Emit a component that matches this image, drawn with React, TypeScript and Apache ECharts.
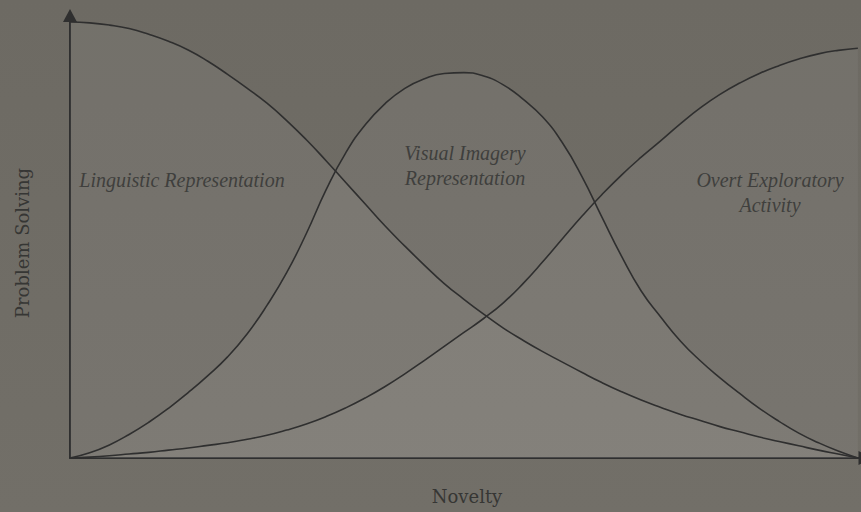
import React, { useEffect, useRef } from "react";
import * as echarts from "echarts";

const xValues = [
  0, 2.5, 5, 7.5, 10, 12.5, 15, 17.5, 20, 22.5, 25, 27.5, 30, 32.5, 35, 37.5, 40, 42.5, 45, 47.5,
  50, 52.5, 55, 57.5, 60, 62.5, 65, 67.5, 70, 72.5, 75, 77.5, 80, 82.5, 85, 87.5, 90, 92.5, 95, 97.5, 100,
];
const linguistic = [
  100, 99.8, 99.3, 98.5, 97.2, 95.6, 93.6, 91.0, 88.0, 84.8, 81.4, 77.4, 73.0, 68.2, 63.2, 58.2, 53.2, 48.6, 44.2, 40.0,
  36.4, 33.0, 29.8, 27.0, 24.4, 22.0, 19.6, 17.3, 15.2, 13.3, 11.6, 10.0, 8.6, 7.2, 6.0, 4.8, 3.8, 2.8, 1.8, 0.9, 0,
];
const visual = [
  0, 1.2, 3.0, 5.4, 8.2, 11.4, 15.0, 18.9, 23.2, 28.5, 35.0, 42.5, 51.5, 61.5, 70.0, 76.5, 81.3, 84.8, 87.0, 88.2,
  88.4, 87.6, 85.6, 82.3, 78.2, 72.3, 64.5, 55.3, 46.3, 38.3, 32.3, 26.8, 22.3, 18.4, 14.8, 11.4, 8.4, 5.7, 3.5, 1.6, 0,
];
const overt = [
  0, 0.2, 0.5, 0.9, 1.3, 1.8, 2.3, 2.9, 3.5, 4.3, 5.2, 6.4, 7.8, 9.5, 11.5, 13.8, 16.4, 19.3, 22.4, 25.6,
  28.8, 32.0, 35.6, 40.0, 45.0, 50.3, 55.5, 60.4, 64.9, 69.0, 72.8, 76.7, 80.3, 83.4, 86.0, 88.2, 90.0, 91.5, 92.7, 93.5, 94.0,
];

const seriesNames = ["Linguistic Representation", "Visual Imagery Representation", "Overt Exploratory Activity"];
const labelLines = ["Linguistic Representation", "Visual Imagery\nRepresentation", "Overt Exploratory\nActivity"];
const xAxisName = "Novelty";
const yAxisName = "Problem Solving";

const textColor = "#363634";
const lineColor = "#2f2f2f";

export default function App() {
  const ref = useRef<HTMLDivElement>(null);
  useEffect(() => {
    if (!ref.current) return;
    const chart = echarts.init(ref.current, null, { renderer: "svg" });
    const mk = (name: string, vals: number[]) => ({
      name,
      type: "line",
      smooth: 0.5,
      symbol: "none",
      data: xValues.map((x, i) => [x, vals[i]]),
      lineStyle: { color: lineColor, width: 1.6 },
      areaStyle: { color: "rgba(255,255,255,0.068)", origin: "start" },
      z: 2,
    });
    const labelFont = "italic 20px 'Liberation Serif', serif";
    chart.setOption({
      animation: false,
      backgroundColor: {
        type: "linear", x: 0, y: 0, x2: 0, y2: 1,
        colorStops: [
          { offset: 0, color: "#6d6a63" },
          { offset: 1, color: "#726f68" },
        ],
      },
      grid: { left: 70, right: 0, top: 15.5, bottom: 54 },
      xAxis: {
        type: "value",
        min: 0,
        max: 100.4,
        axisLine: { show: true, lineStyle: { color: lineColor, width: 2 }, symbol: ["none", "triangle"], symbolSize: [14, 13], symbolOffset: [0, 4] },
        axisTick: { show: false },
        axisLabel: { show: false },
        splitLine: { show: false },
      },
      yAxis: {
        type: "value",
        min: 0,
        max: 101.5,
        axisLine: { show: true, lineStyle: { color: lineColor, width: 2 }, symbol: ["none", "triangle"], symbolSize: [14, 13] },
        axisTick: { show: false },
        axisLabel: { show: false },
        splitLine: { show: false },
      },
      series: [mk(seriesNames[0], linguistic), mk(seriesNames[1], visual), mk(seriesNames[2], overt)],
      graphic: [
        {
          type: "text", x: 182, y: 180,
          style: { text: labelLines[0], font: labelFont, fill: textColor, align: "center", verticalAlign: "middle" },
        },
        {
          type: "text", x: 465, y: 165,
          style: { text: labelLines[1], font: labelFont, fill: textColor, align: "center", verticalAlign: "middle", lineHeight: 25 },
        },
        {
          type: "text", x: 770, y: 192,
          style: { text: labelLines[2], font: labelFont, fill: textColor, align: "center", verticalAlign: "middle", lineHeight: 25 },
        },
        {
          type: "text", x: 22, y: 243, rotation: Math.PI / 2,
          style: { text: yAxisName, font: "18px 'DejaVu Serif', serif", fill: textColor, align: "center", verticalAlign: "middle" },
        },
        {
          type: "text", x: 467, y: 496,
          style: { text: xAxisName, font: "18px 'DejaVu Serif', serif", fill: textColor, align: "center", verticalAlign: "middle" },
        },
      ],
    });
    return () => chart.dispose();
  }, []);
  return <div ref={ref} style={{ width: 861, height: 512, position: "absolute", left: 0, top: 0 }} />;
}
